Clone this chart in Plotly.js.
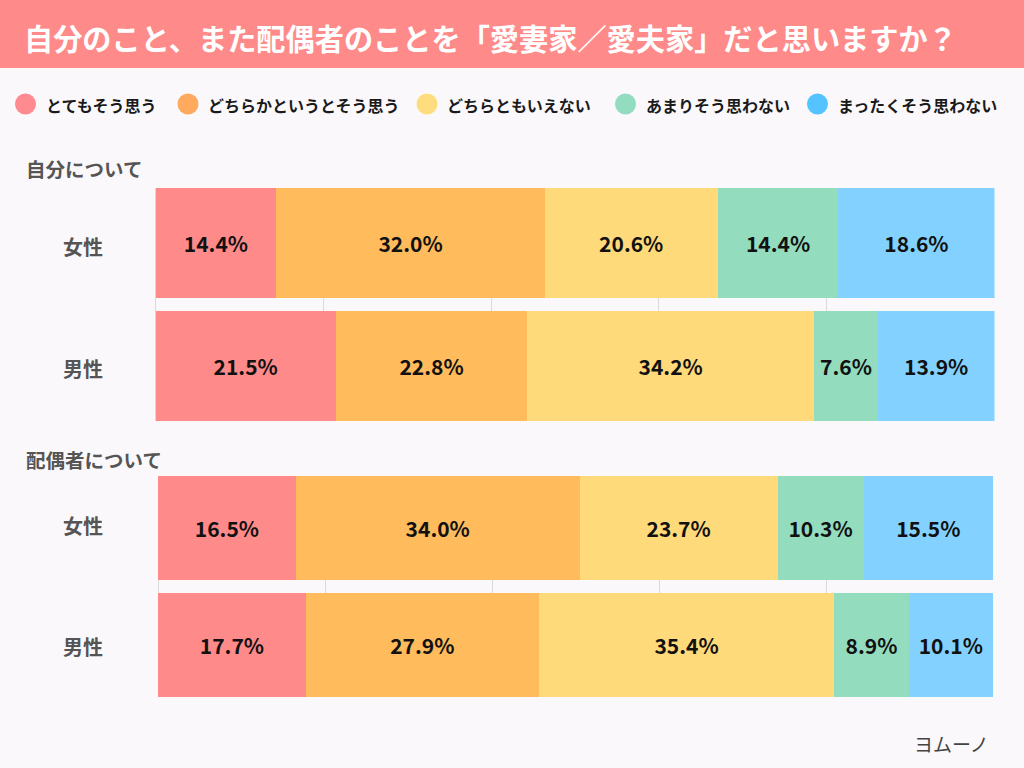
<!DOCTYPE html>
<html>
<head>
<meta charset="utf-8">
<script src="https://cdn.plot.ly/plotly-3.0.1.min.js"></script>
<style>
html,body{margin:0;padding:0;background:#FBF8FB;}
#chart{width:1024px;height:768px;}
</style>
</head>
<body>
<div id="chart"></div>
<script>
// ---- data ----
const chartTitle = '自分のこと、また配偶者のことを「愛妻家／愛夫家」だと思いますか？';
const groupTitles = ['自分について', '配偶者について'];
const categories = ['女性', '男性'];
const seriesNames = ['とてもそう思う', 'どちらかというとそう思う', 'どちらともいえない', 'あまりそう思わない', 'まったくそう思わない'];
const selfValues = [
  [14.4, 21.5],
  [32.0, 22.8],
  [20.6, 34.2],
  [14.4, 7.6],
  [18.6, 13.9]
];
const spouseValues = [
  [16.5, 17.7],
  [34.0, 27.9],
  [23.7, 35.4],
  [10.3, 8.9],
  [15.5, 10.1]
];
const xTicks = [0, 20, 40, 60, 80, 100];

// ---- styles ----
const barColors = ['#FF8A8A', '#FFBB5C', '#FFDA7A', '#94DCBE', '#82D1FF'];
const legendColors = ['#FF8A90', '#FFAA5E', '#FFDD7E', '#94DCC0', '#55C3FF'];
const bg = '#FBF8FB';
const W = 1024, H = 768;
const px = v => v / W;
const py = v => 1 - v / H;
const font = 'Noto Sans CJK JP, Noto Sans, sans-serif';
const bargap = 0.11;
const bw = 1 - bargap;

const traces = [];
[selfValues, spouseValues].forEach((vals, g) => {
  vals.forEach((row, i) => {
    traces.push({
      type: 'bar',
      orientation: 'h',
      name: seriesNames[i],
      x: row,
      y: categories,
      xaxis: g === 0 ? 'x' : 'x2',
      yaxis: g === 0 ? 'y' : 'y2',
      marker: {color: barColors[i], line: {width: 0}},
      texttemplate: '%{x:.1f}%',
      textposition: 'inside',
      insidetextanchor: 'middle',
      textangle: 0,
      constraintext: 'none',
      insidetextfont: {family: font, size: 21, color: '#111111', weight: 'bold'},
      showlegend: false,
      hoverinfo: 'skip'
    });
  });
});

const xaxisBase = {
  range: [0, 100],
  tickvals: xTicks,
  showticklabels: false,
  showgrid: true,
  gridcolor: '#DADADA',
  gridwidth: 1,
  zeroline: true,
  zerolinecolor: '#DADADA',
  zerolinewidth: 1,
  showline: false,
  fixedrange: true
};
const yaxisBase = {
  type: 'category',
  categoryarray: categories,
  range: [1 + bw / 2, -bw / 2],
  showticklabels: false,
  showgrid: false,
  zeroline: false,
  showline: false,
  fixedrange: true
};

const shapes = [
  {type: 'rect', xref: 'paper', yref: 'paper', x0: 0, x1: 1, y0: py(68), y1: 1,
   fillcolor: '#FF8A8A', line: {width: 0}, layer: 'below'}
];
const annotations = [
  {xref: 'paper', yref: 'paper', x: px(22), y: py(37), xanchor: 'left', yanchor: 'middle',
   text: chartTitle, showarrow: false,
   font: {family: font, size: 29.2, color: '#FFFFFF', weight: 'bold'}}
];

// legend (custom, circles)
const legendCx = [25.5, 188, 427, 625.5, 817.5];
const legendY = 104;
seriesNames.forEach((n, i) => {
  shapes.push({type: 'circle', xref: 'paper', yref: 'paper',
    x0: px(legendCx[i] - 10.5), x1: px(legendCx[i] + 10.5),
    y0: py(legendY + 10.5), y1: py(legendY - 10.5),
    fillcolor: legendColors[i], line: {width: 0}});
  annotations.push({xref: 'paper', yref: 'paper', x: px(legendCx[i] + 18), y: py(legendY + 1),
    xanchor: 'left', yanchor: 'middle', text: n, showarrow: false,
    font: {family: font, size: 16, color: '#1A1A1A', weight: 'bold'}});
});

// group titles
const groupTitleY = [168, 459];
groupTitles.forEach((t, g) => {
  annotations.push({xref: 'paper', yref: 'paper', x: px(24), y: py(groupTitleY[g]),
    xanchor: 'left', yanchor: 'middle', text: t, showarrow: false,
    font: {family: font, size: 19.5, color: '#555555', weight: 'bold'}});
});

// category labels
const catY = [[247, 368], [525, 646]];
catY.forEach(ys => {
  categories.forEach((c, i) => {
    annotations.push({xref: 'paper', yref: 'paper', x: px(82.5), y: py(ys[i]),
      xanchor: 'center', yanchor: 'middle', text: c, showarrow: false,
      font: {family: font, size: 20, color: '#555555', weight: 'bold'}});
  });
});

// logo
annotations.push({xref: 'paper', yref: 'paper', x: px(991), y: py(743),
  xanchor: 'right', yanchor: 'middle', text: 'ヨムーノ', showarrow: false,
  font: {family: font, size: 19, color: '#444444'}});

const layout = {
  width: W, height: H,
  margin: {l: 0, r: 0, t: 0, b: 0, pad: 0},
  paper_bgcolor: bg,
  plot_bgcolor: bg,
  barmode: 'stack',
  bargap: bargap,
  showlegend: false,
  xaxis: Object.assign({}, xaxisBase, {domain: [px(155.5), px(994.5)], anchor: 'y'}),
  yaxis: Object.assign({}, yaxisBase, {domain: [py(421), py(188)], anchor: 'x'}),
  xaxis2: Object.assign({}, xaxisBase, {domain: [px(158), px(993)], anchor: 'y2'}),
  yaxis2: Object.assign({}, yaxisBase, {domain: [py(697), py(476)], anchor: 'x2'}),
  shapes: shapes,
  annotations: annotations
};

Plotly.newPlot('chart', traces, layout, {displayModeBar: false, staticPlot: true});
</script>
</body>
</html>
